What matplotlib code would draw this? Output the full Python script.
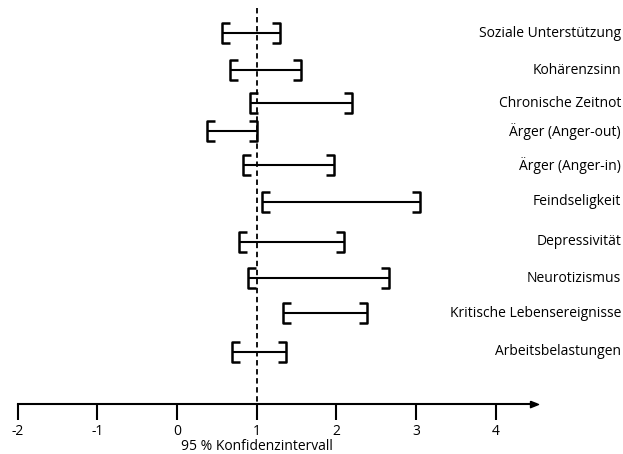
import matplotlib
matplotlib.use("Agg")
import matplotlib.pyplot as plt
from matplotlib.path import Path

plt.rcParams['font.family'] = ['Open Sans', 'DejaVu Sans']

# confidence intervals (95 %) per factor, top to bottom
categories = ["Soziale Unterstützung", "Kohärenzsinn", "Chronische Zeitnot",
              "Ärger (Anger-out)", "Ärger (Anger-in)", "Feindseligkeit",
              "Depressivität", "Neurotizismus", "Kritische Lebensereignisse",
              "Arbeitsbelastungen"]
lower = [0.56, 0.66, 0.91, 0.38, 0.83, 1.07, 0.78, 0.89, 1.33, 0.69]
upper = [1.29, 1.55, 2.19, 1.00, 1.97, 3.05, 2.09, 2.66, 2.38, 1.37]
x_ticks = [-2, -1, 0, 1, 2, 3, 4]
ref_value = 1

# row layout (rows are not evenly spaced in the original)
row_pos = [0, 1.05, 1.98, 2.77, 3.73, 4.77, 5.9, 6.92, 7.91, 9.0]
axis_y = 10.48

# bracket markers
left_br = Path([(0.8, 1), (0, 1), (0, -1), (0.8, -1)])
right_br = Path([(-0.8, 1), (0, 1), (0, -1), (-0.8, -1)])
arrow_head = Path([(-1, 0.4), (0, 0), (-1, -0.4), (-1, 0.4)])

fig = plt.figure(figsize=(6.23, 4.54), dpi=100)
ax = fig.add_axes([0, 0, 1, 1])
ax.set_xlim(-2.221, 5.594)
ax.set_ylim(11.89, -0.932)

for lo, hi, y in zip(lower, upper, row_pos):
    ax.plot([lo, hi], [y, y], color='black', lw=1.5, solid_capstyle='butt')
    ax.plot(lo, y, marker=left_br, ms=14.4, mew=1.8, mfc='none', color='black')
    ax.plot(hi, y, marker=right_br, ms=14.4, mew=1.8, mfc='none', color='black')

for name, y in zip(categories, row_pos):
    ax.text(5.57, y, name, ha='right', va='center', fontsize=10)

ax.vlines(ref_value, -0.71, axis_y, colors='black', lw=1.3, linestyles=(0, (3, 2)))

# bottom axis with arrow
for s in ['top', 'left', 'right']:
    ax.spines[s].set_visible(False)
ax.spines['bottom'].set_position(('data', axis_y))
ax.spines['bottom'].set_bounds(-2, 4.5)
ax.spines['bottom'].set_linewidth(1.5)
ax.plot(4.53, axis_y, marker=arrow_head, ms=11.5, color='black', clip_on=False)
ax.set_xticks(x_ticks)
ax.set_xticklabels([str(t) for t in x_ticks])
ax.tick_params(axis='x', direction='out', length=11.5, width=1.5, pad=3, labelsize=10)
ax.set_yticks([])
ax.text(1, 11.69, "95 % Konfidenzintervall", ha='center', va='center', fontsize=10)

fig.savefig('out.png', dpi=100)
